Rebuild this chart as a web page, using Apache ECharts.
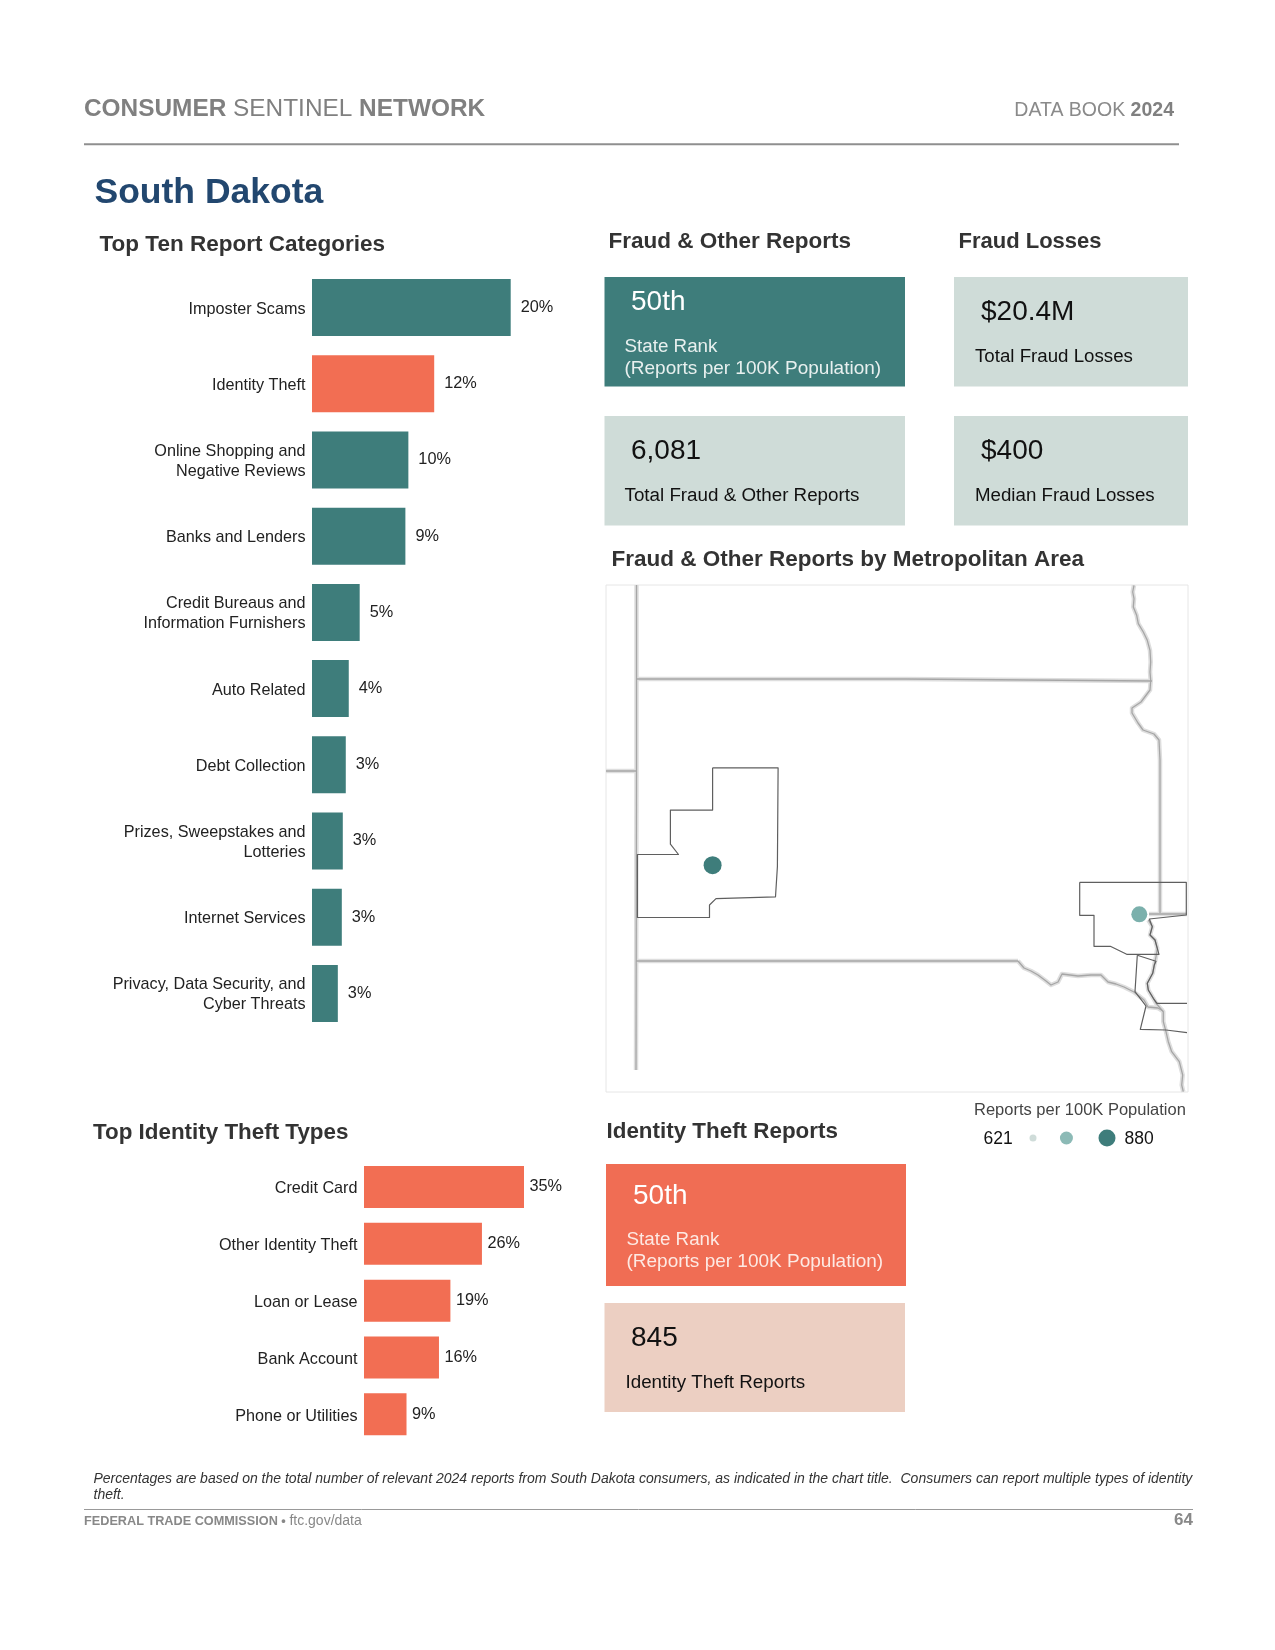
<!DOCTYPE html>
<html>
<head>
<meta charset="utf-8">
<title>South Dakota</title>
<script src="https://cdn.jsdelivr.net/npm/echarts@6/dist/echarts.min.js"></script>
<style>
    html, body { margin: 0; padding: 0; background: #fff; }
    #main { width: 1275px; height: 1650px; }
</style>
</head>
<body>
<div id="main"></div>
<script>
    // top ten report categories, share of reports in percent
    var reportCategories = ['Imposter Scams', 'Identity Theft', 'Online Shopping and\nNegative Reviews', 'Banks and Lenders',
        'Credit Bureaus and\nInformation Furnishers', 'Auto Related', 'Debt Collection',
        'Prizes, Sweepstakes and\nLotteries', 'Internet Services', 'Privacy, Data Security, and\nCyber Threats'];
    var reportValues = [20.0, 12.3, 9.7, 9.4, 4.8, 3.7, 3.4, 3.1, 3.0, 2.6];

    var theftTypes = ['Credit Card', 'Other Identity Theft', 'Loan or Lease', 'Bank Account', 'Phone or Utilities'];
    var theftValues = [35, 25.8, 18.9, 16.4, 9.3];

    var fraudFigures = ['50th', '6,081'];
    var lossFigures = ['$20.4M', '$400'];
    var theftFigures = ['50th', '845'];

    // map shapes in map units (box is 582 x 507)
    var westBorder = [[30.5, 0], [30.5, 186], [30, 186], [30, 485]];
    var northBorder = [[30.5, 94], [300, 94], [546, 96]];
    var wyomingLine = [[0, 186], [30.5, 186]];
    var southBorder = [[30, 376], [412, 376]];
    var eastLine = [[554, 175], [554, 328]];
    var iowaLine = [[543, 329], [581, 329]];
    var riverNorth = [[528, 0.3], [526.7, 7], [528, 13.7], [527.3, 22], [530.7, 30.3], [532.3, 38.7], [537.3, 47], [541.3, 55.3],
        [544, 65.3], [544.7, 77], [544, 87], [544.7, 95.3], [544, 105], [535, 117], [526, 123], [526, 128], [532, 138],
        [537, 145], [548, 149], [553, 155], [554, 175]];
    var riverSouth = [[412, 376], [418, 383], [425, 386], [432, 390], [440, 396], [445, 400], [452, 397], [456, 389], [472, 391],
        [485, 390], [495, 390], [502, 397], [510, 399], [518, 402], [528, 407], [538, 415], [542, 422], [552, 423], [557, 426]];
    var riverEast = [[542.3, 335], [546.3, 341.7], [544, 350], [549, 355], [551.3, 363.3], [550, 371.7], [548.3, 380], [546.7, 388.3],
        [541.3, 398.3], [542.3, 405], [547.3, 413.3], [550, 418.3], [557.3, 426.7], [557.3, 436.7], [560, 446.7], [562.3, 456.7],
        [565.7, 466.7], [573.3, 476.7], [576.7, 490], [575.7, 500], [577.3, 506.7]];
    var rapidCityArea = [[106.6, 182.8], [172.1, 182.8], [171.4, 281.6], [169.5, 311.8], [110, 313.6], [103.5, 320], [103.5, 332.5],
        [31.4, 332.5], [31.4, 269.5], [72.5, 269.5], [64.4, 259.2], [64.4, 225.1], [106.6, 225.1], [106.6, 182.8]];
    var siouxFallsArea = [[473.7, 297.3], [580.3, 297.3], [580.3, 330], [543.3, 334], [546.3, 341.7], [544, 350], [549, 355],
        [551.3, 363.3], [553, 369.3], [520.7, 369.3], [504.3, 361.3], [488, 361.3], [488, 330.3], [473.7, 330.3], [473.7, 297.3]];
    var siouxCityNorth = [[531.3, 370.3], [550, 376.3], [548.3, 380], [546.7, 388.3], [541.3, 398.3], [542.3, 405], [547.3, 413.3],
        [551, 418.3], [581, 418.3]];
    var siouxCitySouth = [[531.3, 370.3], [529, 406.7], [540, 421], [534.3, 444.3], [560, 445], [581, 447.7]];
    var metroPoints = [[106.6, 280.2, 880], [533.3, 329.3, 738]];

    var legendValues = [621, 738, 880];

    var TEAL = '#3e7d7b';
    var ORANGE = '#f26e53';
    var FONT = '"Liberation Sans", sans-serif';

    function barGrid(left, top, width, height) {
        return {left: left, top: top, width: width, height: height, containLabel: false};
    }

    function hiddenAxis(idx, max) {
        return {type: 'value', gridIndex: idx, min: 0, max: max, show: false};
    }

    function categoryAxis(idx, data, labels) {
        return {
            type: 'category', gridIndex: idx, inverse: true, data: data,
            axisLine: {show: false}, axisTick: {show: false}, splitLine: {show: false},
            axisLabel: {show: labels, interval: 0, margin: 6.5, color: '#222', fontFamily: FONT, fontSize: 16.2, lineHeight: 20, align: 'right'}
        };
    }

    function percentLabel(p) {
        return Math.round(p.value) + '%';
    }

    var mapBorders = [westBorder, northBorder, wyomingLine, southBorder, eastLine, iowaLine, riverNorth, riverSouth, riverEast];
    var metroLines = [rapidCityArea, siouxFallsArea, siouxCityNorth, siouxCitySouth];

    function mapLine(points, color, width, z) {
        return {
            type: 'line', xAxisIndex: 2, yAxisIndex: 2, data: points, symbol: 'none', silent: true, z: z,
            lineStyle: {color: color, width: width, join: 'round'}
        };
    }

    var series = [
        {
            type: 'bar', xAxisIndex: 0, yAxisIndex: 0, barWidth: 57, silent: true,
            data: reportValues.map(function (v, i) {
                return {value: v, itemStyle: {color: reportCategories[i] === 'Identity Theft' ? ORANGE : TEAL}};
            }),
            label: {show: true, position: 'right', distance: 10, color: '#222', fontFamily: FONT, fontSize: 16.3, formatter: percentLabel}
        },
        {
            type: 'bar', xAxisIndex: 1, yAxisIndex: 1, barWidth: 42, silent: true,
            data: theftValues, itemStyle: {color: ORANGE},
            label: {show: true, position: 'right', distance: 5.5, color: '#222', fontFamily: FONT, fontSize: 16.3, formatter: percentLabel}
        }
    ];

    mapBorders.forEach(function (points) {
        series.push(mapLine(points, '#dedede', 4.5, 2));
    });
    mapBorders.forEach(function (points) {
        series.push(mapLine(points, '#a6a6a6', 1.3, 3));
    });
    metroLines.forEach(function (points) {
        series.push(mapLine(points, '#5f5f5f', 1.2, 4));
    });

    series.push({
        type: 'scatter', xAxisIndex: 2, yAxisIndex: 2, data: metroPoints, silent: true, z: 5,
        symbolSize: function (v) { return v[2] > 800 ? 18 : 16; },
        itemStyle: {opacity: 1, color: function (p) { return p.value[2] > 800 ? TEAL : '#7bb0ac'; }}
    });

    var legendSizes = [7, 13, 17];
    var legendColors = ['#cfdcd9', '#8cbab6', TEAL];
    series.push({
        type: 'scatter', xAxisIndex: 3, yAxisIndex: 3, silent: true,
        data: legendValues.map(function (v) { return [v, 0]; }),
        symbolSize: function (v, p) { return legendSizes[p.dataIndex]; },
        itemStyle: {opacity: 1, color: function (p) { return legendColors[p.dataIndex]; }}
    });

    // page furniture below: headings, cards and rules
    function txt(x, y, str, size, color, weight, extra) {
        var dy = size >= 30 ? 3 : size >= 18 ? 2 : size >= 16 ? 1 : 0;
        var style = {x: x, y: y + dy, text: str, fill: color, font: (weight || 'normal') + ' ' + size + 'px ' + FONT, verticalAlign: 'middle', align: 'left'};
        for (var k in (extra || {})) { style[k] = extra[k]; }
        return {type: 'text', z: 20, silent: true, style: style};
    }

    function box(x, y, w, h, color) {
        return {type: 'rect', z: 10, silent: true, shape: {x: x, y: y, width: w, height: h}, style: {fill: color}};
    }

    function rule(x1, x2, y, color, width) {
        return {type: 'line', z: 10, silent: true, shape: {x1: x1, y1: y, x2: x2, y2: y}, style: {stroke: color, lineWidth: width}};
    }

    var HEAD = '#333333';
    var LIGHT = '#cfdcd8';
    var NOTE = 'Percentages are based on the total number of relevant 2024 reports from South Dakota consumers, as indicated in the chart title.  Consumers can report multiple types of identity';

    var graphics = [
        txt(84, 107, '{b|CONSUMER} {n|SENTINEL} {b|NETWORK}', 24.4, '#808080', 'normal', {
            rich: {
                b: {font: 'bold 24.4px ' + FONT, fill: '#808080'},
                n: {font: 'normal 24.4px ' + FONT, fill: '#808080'}
            }
        }),
        txt(1174, 109, '{n|DATA BOOK} {b|2024}', 19.5, '#808080', 'normal', {
            align: 'right',
            rich: {
                b: {font: 'bold 19.5px ' + FONT, fill: '#808080'},
                n: {font: 'normal 19.5px ' + FONT, fill: '#8a8a8a'}
            }
        }),
        rule(84, 1179, 144.3, '#8f8f8f', 2),
        txt(94.5, 190, 'South Dakota', 35.5, '#22476f', 'bold'),

        txt(99.5, 243, 'Top Ten Report Categories', 22.5, HEAD, 'bold'),
        txt(608.5, 240, 'Fraud & Other Reports', 22.5, HEAD, 'bold'),
        txt(958.5, 240, 'Fraud Losses', 22, HEAD, 'bold'),
        txt(611.5, 558, 'Fraud & Other Reports by Metropolitan Area', 22.5, HEAD, 'bold'),
        txt(93, 1131, 'Top Identity Theft Types', 22.4, HEAD, 'bold'),
        txt(606.5, 1130, 'Identity Theft Reports', 22.4, HEAD, 'bold'),

        box(604.5, 277, 300.5, 109.5, TEAL),
        txt(631, 300, fraudFigures[0], 28, '#ffffff'),
        txt(624.5, 345, 'State Rank', 18.8, '#e8f0ef'),
        txt(624.5, 367, '(Reports per 100K Population)', 19, '#e8f0ef'),

        box(604.5, 416, 300.5, 109.5, LIGHT),
        txt(631, 449, fraudFigures[1], 28, '#111111'),
        txt(624.5, 494, 'Total Fraud & Other Reports', 18.8, '#111111'),

        box(954, 277, 234, 109.5, LIGHT),
        txt(981, 310, lossFigures[0], 28, '#111111'),
        txt(975, 355, 'Total Fraud Losses', 18.7, '#111111'),

        box(954, 416, 234, 109.5, LIGHT),
        txt(981, 449, lossFigures[1], 28, '#111111'),
        txt(975, 494, 'Median Fraud Losses', 18.7, '#111111'),

        box(606, 1164, 300, 122, '#f06d54'),
        txt(633, 1194, theftFigures[0], 28, '#ffffff'),
        txt(626.5, 1237.5, 'State Rank', 18.8, '#fde9e3'),
        txt(626.5, 1259.5, '(Reports per 100K Population)', 19, '#fde9e3'),

        box(604.5, 1303, 300.5, 109, '#eccfc2'),
        txt(631, 1336, theftFigures[1], 28, '#111111'),
        txt(625.5, 1380.5, 'Identity Theft Reports', 18.8, '#111111'),

        txt(974, 1109, 'Reports per 100K Population', 16.5, '#444444'),
        txt(983.5, 1138, String(legendValues[0]), 17.5, '#111111'),
        txt(1124.5, 1138, String(legendValues[2]), 17.5, '#111111'),

        txt(93.5, 1479.5, NOTE, 14, '#333333', 'italic'),
        txt(93.5, 1495, 'theft.', 14, '#333333', 'italic'),
        rule(84, 1193, 1509.5, '#999999', 1),
        txt(84, 1521.5, '{b|FEDERAL TRADE COMMISSION •} {n|ftc.gov/data}', 13, '#888888', 'normal', {
            rich: {
                b: {font: 'bold 12.7px ' + FONT, fill: '#888888'},
                n: {font: 'normal 14px ' + FONT, fill: '#888888'}
            }
        }),
        txt(1193, 1519.5, '64', 17, '#888888', 'bold', {align: 'right'})
    ];

    var chart = echarts.init(document.getElementById('main'));
    chart.setOption({
        animation: false,
        backgroundColor: '#fff',
        grid: [
            barGrid(312, 269.5, 198.7, 762),
            barGrid(364, 1158.5, 160, 284.3),
            {left: 606, top: 585, width: 582, height: 507, show: true, borderColor: '#e6e6e6', borderWidth: 1, backgroundColor: '#fff'},
            {left: 1033, top: 1128, width: 74, height: 20},
            // the row names sit a little lower than the bar centres, so they get their own grids
            barGrid(312, 271, 198.7, 762),
            barGrid(364, 1160.5, 160, 284.3)
        ],
        xAxis: [
            hiddenAxis(0, 20),
            hiddenAxis(1, 35),
            hiddenAxis(2, 582),
            {type: 'value', gridIndex: 3, min: 621, max: 880, show: false},
            hiddenAxis(4, 20),
            hiddenAxis(5, 35)
        ],
        yAxis: [
            categoryAxis(0, reportCategories, false),
            categoryAxis(1, theftTypes, false),
            {type: 'value', gridIndex: 2, min: 0, max: 507, inverse: true, show: false},
            {type: 'value', gridIndex: 3, min: -1, max: 1, show: false},
            categoryAxis(4, reportCategories, true),
            categoryAxis(5, theftTypes, true)
        ],
        series: series,
        graphic: graphics
    });
</script>
</body>
</html>
